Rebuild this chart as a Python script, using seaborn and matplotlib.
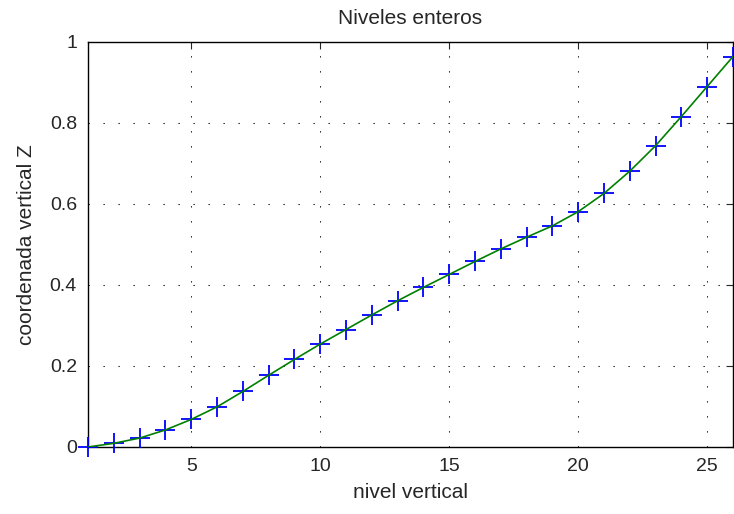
import numpy as np
import pandas as pd
import matplotlib
matplotlib.use("Agg")
import matplotlib.pyplot as plt
import seaborn as sns

# ----------------------------
# Data
# ----------------------------
niveles = list(range(1, 27))
z_coord = [0.000, 0.009, 0.022, 0.042, 0.068, 0.099, 0.137, 0.177, 0.216,
           0.254, 0.290, 0.326, 0.361, 0.394, 0.426, 0.458, 0.489, 0.518,
           0.546, 0.581, 0.626, 0.681, 0.744, 0.816, 0.890, 0.964]

x_ticks = [5, 10, 15, 20, 25]
y_ticks = [0, 0.2, 0.4, 0.6, 0.8, 1]
y_tick_labels = ["0", "0.2", "0.4", "0.6", "0.8", "1"]

df = pd.DataFrame({"nivel": niveles, "z": z_coord})

# ----------------------------
# Style (MATLAB-like)
# ----------------------------
sns.set_style("white")
plt.rcParams["font.family"] = ["Liberation Sans", "DejaVu Sans"]

fig = plt.figure(figsize=(7.34, 5.14), dpi=100)
ax = fig.add_axes([0.1199, 0.1304, 0.8787, 0.7879])

# markers first (not clipped, like MATLAB), green line on top
sns.scatterplot(data=df, x="nivel", y="z", marker="+", s=190, color="#0000ff",
                linewidth=1.3, ax=ax, zorder=3, clip_on=False)
sns.lineplot(data=df, x="nivel", y="z", color="#008000", linewidth=1.2,
             ax=ax, zorder=4)

ax.set_xlim(1, 26)
ax.set_ylim(0, 1)
ax.set_xticks(x_ticks)
ax.set_yticks(y_ticks)
ax.set_yticklabels(y_tick_labels)

# sparse dotted grid (~14 px spacing)
ax.grid(True, color="black", linestyle=(0, (1.2, 13.2)), linewidth=0.75)
ax.tick_params(direction="in", length=5, width=0.8, top=True, right=True,
               labelsize=14)
ax.tick_params(axis="x", pad=8)
ax.tick_params(axis="y", pad=8)
for s in ax.spines.values():
    s.set_color("black")
    s.set_linewidth(1.0)
    s.set_zorder(2)

ax.set_title("Niveles enteros", fontsize=15, pad=13)
ax.set_xlabel("nivel vertical", fontsize=15, labelpad=6)
ax.set_ylabel("coordenada vertical Z", fontsize=15, labelpad=10)

fig.savefig("out.png", dpi=100)
